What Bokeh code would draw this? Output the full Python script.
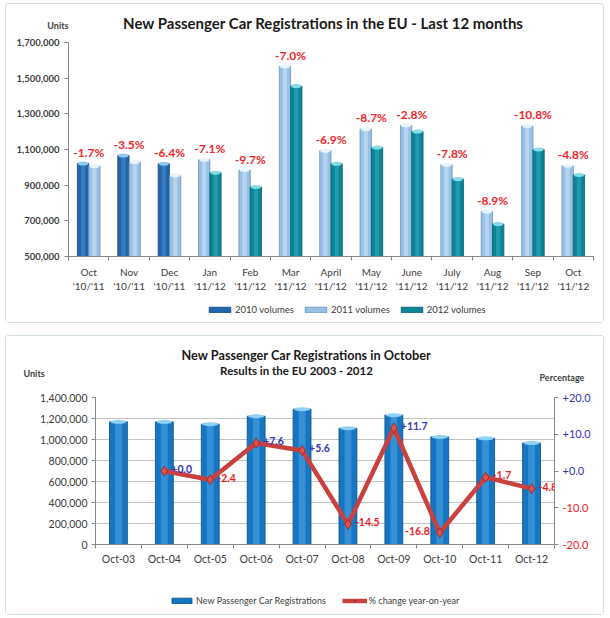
from bokeh.plotting import figure
from bokeh.models import (ColumnDataSource, FixedTicker, NumeralTickFormatter, Range1d,
                          LinearAxis, Label, Legend, LegendItem)
from bokeh.layouts import column, row
from bokeh.embed import file_html
from bokeh.resources import INLINE
from bokeh.core.properties import value

# ---------------- data: chart 1 ----------------
months = ["Oct", "Nov", "Dec", "Jan", "Feb", "Mar", "April", "May", "June", "July", "Aug", "Sep", "Oct"]
periods = ["'10/'11", "'10/'11", "'10/'11", "'11/'12", "'11/'12", "'11/'12", "'11/'12",
           "'11/'12", "'11/'12", "'11/'12", "'11/'12", "'11/'12", "'11/'12"]
vol_2010 = [1022000, 1067000, 1020000, None, None, None, None, None, None, None, None, None, None]
vol_2011 = [1007000, 1030000, 955000, 1043000, 985000, 1567000, 1093000, 1215000, 1236000,
            1015000, 752000, 1232000, 1009000]
vol_2012 = [None, None, None, 970000, 890000, 1456000, 1020000, 1111000, 1201000, 935000,
            682000, 1100000, 957000]
pct_12m = [-1.7, -3.5, -6.4, -7.1, -9.7, -7.0, -6.9, -8.7, -2.8, -7.8, -8.9, -10.8, -4.8]
y_ticks_1 = [500000, 700000, 900000, 1100000, 1300000, 1500000, 1700000]

# ---------------- data: chart 2 ----------------
oct_labels = ["Oct-03", "Oct-04", "Oct-05", "Oct-06", "Oct-07", "Oct-08", "Oct-09", "Oct-10", "Oct-11", "Oct-12"]
oct_regs = [1168000, 1168000, 1146000, 1222000, 1289000, 1108000, 1232000, 1025000, 1012000, 967000]
oct_pct = [None, 0.0, -2.4, 7.6, 5.6, -14.5, 11.7, -16.8, -1.7, -4.8]
y_ticks_2 = [0, 200000, 400000, 600000, 800000, 1000000, 1200000, 1400000]
pct_ticks_2 = [-20, -10, 0, 10, 20]

FONT = "Lato"
AX = "#868686"
TXT = "#404040"
BLUE_T = "#3535b0"
RED_T = "#ee1c24"
PANEL = {"border": "1px solid #d3e2e8", "border-radius": "3px"}
W = 597

C2010 = ("#2365ab", "#4a8fd2", "#174a80", "#8fc9f0")
C2011 = ("#98bfe4", "#d0e5f7", "#6a93bc", "#e8f4fc")
C2012 = ("#0b8596", "#35adbd", "#06606d", "#86dce8")
CBAR2 = ("#1776c2", "#4fa7e8", "#0b4d86", "#8fd0f6")


def no_align(p):
    if "frame_align" in p.properties():
        p.frame_align = False
    return p


def blank_fig(w, h):
    f = figure(width=w, height=h, x_range=Range1d(0, w), y_range=Range1d(0, h),
               x_axis_type=None, y_axis_type=None, output_backend="svg", toolbar_location=None,
               min_border=0)
    f.outline_line_color = None
    f.grid.visible = False
    return no_align(f)


def cyl_bars(p, xs, tops, bottom, width, colors):
    base, stripe, edge, cap = colors
    src = ColumnDataSource(dict(x=xs, top=tops))
    main = p.vbar(x="x", top="top", bottom=bottom, width=width, source=src,
                  fill_color=base, line_color=edge, line_width=0.8)
    p.vbar(x="x", top="top", bottom=bottom, width=width * 0.38, source=src,
           fill_color=stripe, fill_alpha=0.55, line_color=None)
    p.ellipse(x="x", y="top", width=width * 0.9, height=4, height_units="screen", source=src,
              fill_color=cap, line_color=None)
    return main


def style_axes(p):
    for ax in p.axis:
        ax.axis_line_color = AX
        ax.major_tick_line_color = AX
        ax.minor_tick_line_color = AX
        ax.major_label_text_font = FONT
        ax.major_label_text_color = TXT


def txt(f, x, y, s, size, bold=True, align="left", color="#1a1a1a"):
    f.add_layout(Label(x=x, y=y, text=s, text_font=FONT, text_font_style="bold" if bold else "normal",
                       text_font_size=size, text_color=color, text_align=align, text_baseline="middle"))


# ================= chart 1 =================
h1 = blank_fig(W, 30)
txt(h1, 317, 12, "New Passenger Car Registrations in the EU - Last 12 months", "15px", align="center")
txt(h1, 62, 9, "Units", "9px", align="right", color=TXT)

n1 = len(months)
p1 = figure(width=W, height=260, x_range=Range1d(0, n1), y_range=Range1d(y_ticks_1[0], y_ticks_1[-1]),
            output_backend="svg", toolbar_location=None,
            min_border_left=62, min_border_right=W - 587, min_border_top=8, min_border_bottom=36)
no_align(p1)
p1.outline_line_color = None
p1.grid.visible = False

W1 = 0.28
series = [("2010 volumes", vol_2010, C2010), ("2011 volumes", vol_2011, C2011), ("2012 volumes", vol_2012, C2012)]
pos = {k: ([], []) for k in range(3)}
for i in range(n1):
    present = [k for k in range(3) if series[k][1][i] is not None]
    for j, k in enumerate(present):
        off = (j - (len(present) - 1) / 2) * W1
        pos[k][0].append(i + 0.5 + off)
        pos[k][1].append(series[k][1][i])
for k, (name, vals, cols) in enumerate(series):
    cyl_bars(p1, pos[k][0], pos[k][1], y_ticks_1[0], W1, cols)

lab_y = [max(v for v in (a, b, c) if v is not None) for a, b, c in zip(vol_2010, vol_2011, vol_2012)]
p1.text(x=[i + 0.5 for i in range(n1)], y=lab_y, text=[f"{v:.1f}%" for v in pct_12m],
        text_font=value(FONT), text_font_style="bold", text_font_size="12px",
        text_color="#f0262b", text_align="center", text_baseline="middle", y_offset=-11)

p1.yaxis.ticker = FixedTicker(ticks=y_ticks_1)
p1.yaxis.formatter = NumeralTickFormatter(format="0,0")
p1.yaxis.major_label_text_font_size = "9.5px"
p1.yaxis.major_label_text_font_style = "bold"
p1.yaxis.major_tick_out = 4
p1.yaxis.major_tick_in = 0
p1.yaxis.minor_tick_line_color = None
p1.yaxis.major_label_standoff = 5

p1.xaxis.ticker = FixedTicker(ticks=[i + 0.5 for i in range(n1)], minor_ticks=list(range(n1 + 1)))
p1.xaxis.major_label_overrides = {i + 0.5: f"{m}\n{pr}" for i, (m, pr) in enumerate(zip(months, periods))}
p1.xaxis.major_tick_out = 0
p1.xaxis.major_tick_in = 0
p1.xaxis.minor_tick_out = 4
p1.xaxis.minor_tick_in = 0
p1.xaxis.major_label_text_font_size = "10px"
p1.xaxis.major_label_standoff = 5
style_axes(p1)

f1 = blank_fig(W, 28)
items1 = []
for name, vals, (base, stripe, edge, cap) in series:
    r = f1.vbar(x=[-100], top=[-90], bottom=-100, width=1, fill_color=base, line_color=edge, line_width=0.8)
    items1.append(LegendItem(label=name, renderers=[r]))
f1.add_layout(Legend(items=items1, orientation="horizontal", location=(200, 7),
                     glyph_width=27, glyph_height=7, label_text_font=FONT, label_text_font_size="9.5px",
                     label_text_color=TXT, label_standoff=2, spacing=8, padding=0, margin=0,
                     label_height=12, border_line_color=None, background_fill_alpha=0))

panel1 = column(h1, p1, f1, spacing=0, styles=PANEL)

# ================= chart 2 =================
h2 = blank_fig(W, 50)
txt(h2, 300, 32, "New Passenger Car Registrations in October", "12.7px", align="center")
txt(h2, 290, 16, "Results in the EU 2003 - 2012", "11.5px", align="center")
txt(h2, 17, 13, "Units", "9px", color=TXT)
txt(h2, 533, 9, "Percentage", "9px", color=TXT)

n2 = len(oct_labels)
TOP2, FH2, BOT2 = 11, 147, 24
H2 = TOP2 + FH2 + BOT2
p2 = figure(width=556, height=H2, x_range=Range1d(0, n2), y_range=Range1d(y_ticks_2[0], y_ticks_2[-1]),
            output_backend="svg", toolbar_location=None,
            min_border_left=89, min_border_right=8, min_border_top=TOP2, min_border_bottom=BOT2)
no_align(p2)
p2.outline_line_color = None
p2.extra_y_ranges = {"pct": Range1d(pct_ticks_2[0], pct_ticks_2[-1])}
p2.xgrid.visible = False
p2.ygrid.grid_line_color = "#c4c4c4"
p2.ygrid.ticker = FixedTicker(ticks=y_ticks_2)

xs2 = [i + 0.5 for i in range(n2)]
cyl_bars(p2, xs2, oct_regs, 0, 0.39, CBAR2)

pts = [(i + 0.5, v) for i, v in enumerate(oct_pct) if v is not None]
px = [a for a, _ in pts]
py = [b for _, b in pts]
LINE_KW = dict(line_color="#c9413e", line_width=4.5)
MK_KW = dict(marker="diamond", size=10, fill_color="#e0504d", line_color="#9b2b29", line_width=1)
p2.line(px, py, y_range_name="pct", **LINE_KW)
p2.scatter(px, py, y_range_name="pct", **MK_KW)
vmin = min(py)
p2.text(x=px, y=py, y_range_name="pct",
        text=[f"{v:+.1f}" for v in py],
        text_color=[BLUE_T if v >= 0 else RED_T for v in py],
        text_align=["right" if v == vmin else "left" for v in py],
        x_offset=[-10 if v == vmin else 7 for v in py],
        text_font=value(FONT), text_font_size="10.5px", text_font_style="bold",
        text_baseline="middle", y_offset=-2)

p2.yaxis.ticker = FixedTicker(ticks=y_ticks_2)
p2.yaxis.formatter = NumeralTickFormatter(format="0,0")
p2.yaxis.major_label_text_font_size = "10.5px"
p2.yaxis.major_tick_out = 4
p2.yaxis.major_tick_in = 0
p2.yaxis.major_label_standoff = 4

rax = LinearAxis(y_range_name="pct", ticker=FixedTicker(ticks=pct_ticks_2),
                 major_label_overrides={t: "" for t in pct_ticks_2},
                 major_tick_out=4, major_tick_in=0, major_label_standoff=0,
                 major_label_text_font_size="1px")
p2.add_layout(rax, "right")

p2.xaxis.ticker = FixedTicker(ticks=xs2, minor_ticks=list(range(n2 + 1)))
p2.xaxis.major_label_overrides = {x: lab for x, lab in zip(xs2, oct_labels)}
p2.xaxis.major_tick_out = 0
p2.xaxis.major_tick_in = 0
p2.xaxis.minor_tick_out = 4
p2.xaxis.minor_tick_in = 0
p2.xaxis.major_label_text_font_size = "10.5px"
p2.xaxis.major_label_standoff = 4
style_axes(p2)

# right-hand percentage tick labels (blue for >= 0, red for < 0), on the same pct scale
per_px = (pct_ticks_2[-1] - pct_ticks_2[0]) / FH2
p2r = figure(width=W - 556, height=H2, x_range=Range1d(0, W - 556),
             y_range=Range1d(pct_ticks_2[0] - BOT2 * per_px, pct_ticks_2[-1] + TOP2 * per_px),
             x_axis_type=None, y_axis_type=None, output_backend="svg", toolbar_location=None, min_border=0)
no_align(p2r)
p2r.outline_line_color = None
p2r.grid.visible = False
p2r.text(x=[0] * len(pct_ticks_2), y=pct_ticks_2, text=[f"{t:+.1f}" if t >= 0 else f"{t:.1f}" for t in pct_ticks_2],
         text_color=[BLUE_T if t >= 0 else RED_T for t in pct_ticks_2],
         text_font=value(FONT), text_font_size="11px", text_align="left", text_baseline="middle")

f2 = blank_fig(W, 278 - 50 - H2)
rb = f2.vbar(x=[-100], top=[-90], bottom=-100, width=1, fill_color=CBAR2[0], line_color=CBAR2[2], line_width=0.8)
rl = f2.line([-100, -99], [-100, -100], **LINE_KW)
rm = f2.scatter([-100], [-100], **MK_KW)
f2.add_layout(Legend(items=[LegendItem(label="New Passenger Car Registrations", renderers=[rb]),
                            LegendItem(label="% change year-on-year", renderers=[rl, rm])],
                     orientation="horizontal", location=(163, 8),
                     glyph_width=25, glyph_height=7, label_text_font=FONT, label_text_font_size="9px",
                     label_text_color=TXT, label_standoff=2, spacing=16, padding=0, margin=0,
                     label_height=12, border_line_color=None, background_fill_alpha=0))

panel2 = column(h2, row(p2, p2r, spacing=0), f2, spacing=0, styles=PANEL)

layout = column(panel1, panel2, spacing=12, styles={"margin-left": "5px", "margin-top": "3px"})
open("out.html", "w").write(file_html(layout, INLINE))
